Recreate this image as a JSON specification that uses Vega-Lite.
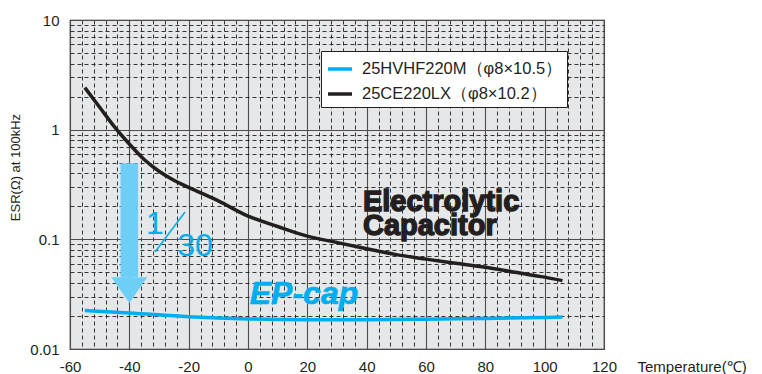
{
  "$schema": "https://vega.github.io/schema/vega-lite/v6.json",
  "width": 534,
  "height": 329,
  "autosize": {"type": "none"},
  "padding": {"left": 70, "top": 20, "right": 158, "bottom": 25},
  "background": "white",
  "config": {
    "font": "Liberation Sans",
    "view": {"fill": "#e6e7e8", "stroke": "#231f20", "strokeWidth": 1.2}
  },
  "datasets": {
    "curves": [
      {"series": "25CE220LX（φ8×10.2）", "t": -55, "esr": 2.42},
      {"series": "25CE220LX（φ8×10.2）", "t": -50, "esr": 1.6},
      {"series": "25CE220LX（φ8×10.2）", "t": -45, "esr": 1.06},
      {"series": "25CE220LX（φ8×10.2）", "t": -40, "esr": 0.74},
      {"series": "25CE220LX（φ8×10.2）", "t": -35, "esr": 0.535},
      {"series": "25CE220LX（φ8×10.2）", "t": -30, "esr": 0.418},
      {"series": "25CE220LX（φ8×10.2）", "t": -25, "esr": 0.346},
      {"series": "25CE220LX（φ8×10.2）", "t": -20, "esr": 0.298},
      {"series": "25CE220LX（φ8×10.2）", "t": -10, "esr": 0.224},
      {"series": "25CE220LX（φ8×10.2）", "t": 0, "esr": 0.163},
      {"series": "25CE220LX（φ8×10.2）", "t": 10, "esr": 0.131},
      {"series": "25CE220LX（φ8×10.2）", "t": 20, "esr": 0.107},
      {"series": "25CE220LX（φ8×10.2）", "t": 30, "esr": 0.0935},
      {"series": "25CE220LX（φ8×10.2）", "t": 40, "esr": 0.082},
      {"series": "25CE220LX（φ8×10.2）", "t": 50, "esr": 0.0725},
      {"series": "25CE220LX（φ8×10.2）", "t": 60, "esr": 0.066},
      {"series": "25CE220LX（φ8×10.2）", "t": 70, "esr": 0.0605},
      {"series": "25CE220LX（φ8×10.2）", "t": 80, "esr": 0.0556},
      {"series": "25CE220LX（φ8×10.2）", "t": 90, "esr": 0.050},
      {"series": "25CE220LX（φ8×10.2）", "t": 100, "esr": 0.0452},
      {"series": "25CE220LX（φ8×10.2）", "t": 106, "esr": 0.042},
      {"series": "25HVHF220M（φ8×10.5）", "t": -55, "esr": 0.0224},
      {"series": "25HVHF220M（φ8×10.5）", "t": -40, "esr": 0.0213},
      {"series": "25HVHF220M（φ8×10.5）", "t": -20, "esr": 0.0197},
      {"series": "25HVHF220M（φ8×10.5）", "t": 0, "esr": 0.0188},
      {"series": "25HVHF220M（φ8×10.5）", "t": 20, "esr": 0.0185},
      {"series": "25HVHF220M（φ8×10.5）", "t": 40, "esr": 0.0185},
      {"series": "25HVHF220M（φ8×10.5）", "t": 60, "esr": 0.0187},
      {"series": "25HVHF220M（φ8×10.5）", "t": 80, "esr": 0.019},
      {"series": "25HVHF220M（φ8×10.5）", "t": 100, "esr": 0.0194},
      {"series": "25HVHF220M（φ8×10.5）", "t": 106, "esr": 0.0196}
    ],
    "arrow": [{"t": -40, "top": 0.495, "bottom": 0.0451, "head": 0.0344}],
    "slash": [{"t1": -31.35, "v1": 0.0766, "t2": -21.24, "v2": 0.1774}],
    "ratio": [
      {"t": -31.35, "v": 0.1117, "text": "1"},
      {"t": -17.87, "v": 0.0705, "text": "30"}
    ],
    "ep": [{"t": 18.87, "v": 0.0257, "text": "EP-cap"}],
    "elec": [
      {"t": 38.75, "v": 0.182, "text": "Electrolytic"},
      {"t": 38.75, "v": 0.1094, "text": "Capacitor"}
    ]
  },
  "resolve": {"axis": {"x": "independent", "y": "independent"}},
  "layer": [
    {
      "data": {"name": "curves"},
      "mark": {"type": "line", "interpolate": "monotone", "strokeWidth": 3.5, "strokeCap": "butt"},
      "encoding": {
        "x": {
          "field": "t", "type": "quantitative",
          "scale": {"domain": [-60, 120], "nice": false, "zero": false},
          "axis": {
            "orient": "bottom", "values": [-56,-52,-48,-44,-36,-32,-28,-24,-16,-12,-8,-4,4,8,12,16,24,28,32,36,44,48,52,56,64,68,72,76,84,88,92,96,104,108,112,116],
            "grid": true, "gridDash": [4, 3], "gridColor": "#231f20", "gridWidth": 0.9,
            "labels": false, "ticks": false, "domain": false, "title": null
          }
        },
        "y": {
          "field": "esr", "type": "quantitative",
          "scale": {"type": "log", "domain": [0.01, 10], "nice": false},
          "axis": {
            "orient": "left", "values": [0.02,0.03,0.04,0.05,0.06,0.07,0.08,0.09,0.2,0.3,0.4,0.5,0.6,0.7,0.8,0.9,2,3,4,5,6,7,8,9],
            "grid": true, "gridDash": [4, 3], "gridColor": "#231f20", "gridWidth": 0.9,
            "labels": false, "ticks": false, "domain": false, "title": null
          }
        },
        "color": {
          "field": "series", "type": "nominal",
          "scale": {"domain": ["25HVHF220M（φ8×10.5）", "25CE220LX（φ8×10.2）"], "range": ["#00aeef", "#231f20"]},
          "legend": {
            "orient": "none", "legendX": 251, "legendY": 31, "title": null,
            "fillColor": "white", "strokeColor": "#231f20", "padding": 4,
            "symbolType": "stroke", "symbolStrokeWidth": 3.5, "symbolSize": 576, "symbolOffset": 1,
            "labelFontSize": 16.5, "labelFont": "Liberation Sans", "labelColor": "#231f20",
            "labelOffset": 8, "rowPadding": 2, "labelLimit": 400
          }
        }
      }
    },
    {
      "data": {"name": "arrow"},
      "mark": {"type": "rule", "strokeWidth": 17.6, "color": "#6dcff6", "strokeCap": "butt"},
      "encoding": {
        "x": {
          "field": "t", "type": "quantitative",
          "axis": {
            "orient": "bottom", "values": [-60,-40,-20,0,20,40,60,80,100,120],
            "labelExpr": "'' + datum.value",
            "grid": true, "gridColor": "#4d4d4f", "gridWidth": 1.1,
            "ticks": false, "domain": false,
            "labelFont": "Liberation Sans", "labelFontSize": 15, "labelColor": "#231f20",
            "labelBaseline": "alphabetic", "labelPadding": 22.5, "labelFlush": false, "labelOverlap": false,
            "title": "Temperature(℃)", "titleFont": "Liberation Sans", "titleFontSize": 15, "titleFontWeight": "normal",
            "titleColor": "#231f20", "titleAlign": "left", "titleBaseline": "alphabetic", "titleAnchor": "start",
            "titleX": 567, "titleY": 22.7
          }
        },
        "y": {
          "field": "top", "type": "quantitative",
          "axis": {
            "orient": "left", "values": [0.01, 0.1, 1, 10], "format": "~g",
            "grid": true, "gridColor": "#4d4d4f", "gridWidth": 1.1,
            "ticks": false, "domain": false,
            "labelFont": "Liberation Sans", "labelFontSize": 15, "labelColor": "#231f20",
            "labelPadding": 11, "labelFlush": false, "labelOverlap": false,
            "title": "ESR(Ω) at 100kHz", "titleFont": "Liberation Sans", "titleFontSize": 13, "titleFontWeight": "normal",
            "titleColor": "#231f20", "titleAngle": 270, "titleAlign": "center", "titleBaseline": "middle",
            "titleX": -55, "titleY": 147
          }
        },
        "y2": {"field": "bottom"}
      }
    },
    {
      "data": {"name": "arrow"},
      "mark": {"type": "point", "filled": true, "shape": "M-1,-0.714L1,-0.714L0,0.714Z", "size": 1296, "color": "#6dcff6", "opacity": 1, "strokeWidth": 0},
      "encoding": {
        "x": {"field": "t", "type": "quantitative", "axis": null},
        "y": {"field": "head", "type": "quantitative", "axis": null}
      }
    },
    {
      "data": {"name": "slash"},
      "mark": {"type": "rule", "strokeWidth": 1.6, "color": "#00aeef"},
      "encoding": {
        "x": {"field": "t1", "type": "quantitative", "axis": null},
        "y": {"field": "v1", "type": "quantitative", "axis": null},
        "x2": {"field": "t2"},
        "y2": {"field": "v2"}
      }
    },
    {
      "data": {"name": "ratio"},
      "mark": {"type": "text", "font": "Liberation Sans", "fontSize": 32, "color": "#00aeef", "align": "center", "baseline": "alphabetic"},
      "encoding": {
        "x": {"field": "t", "type": "quantitative", "axis": null},
        "y": {"field": "v", "type": "quantitative", "axis": null},
        "text": {"field": "text"}
      }
    },
    {
      "data": {"name": "ep"},
      "mark": {"type": "text", "font": "Liberation Sans", "fontSize": 32, "fontWeight": "bold", "fontStyle": "italic", "color": "#00aeef", "stroke": "#00aeef", "strokeWidth": 0.6, "align": "center", "baseline": "alphabetic"},
      "encoding": {
        "x": {"field": "t", "type": "quantitative", "axis": null},
        "y": {"field": "v", "type": "quantitative", "axis": null},
        "text": {"field": "text"}
      }
    },
    {
      "data": {"name": "elec"},
      "mark": {"type": "text", "font": "Liberation Sans", "fontSize": 29, "fontWeight": "bold", "color": "#231f20", "stroke": "#231f20", "strokeWidth": 1.4, "align": "left", "baseline": "alphabetic"},
      "encoding": {
        "x": {"field": "t", "type": "quantitative", "axis": null},
        "y": {"field": "v", "type": "quantitative", "axis": null},
        "text": {"field": "text"}
      }
    }
  ]
}
